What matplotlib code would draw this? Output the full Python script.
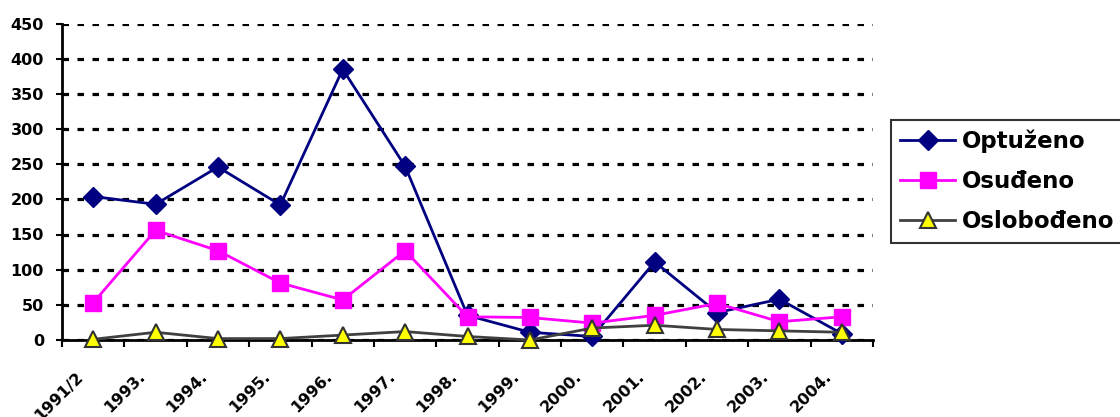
import matplotlib
matplotlib.use("Agg")
import matplotlib.pyplot as plt
import matplotlib.transforms as mtransforms

categories = ["1991/2", "1993.", "1994.", "1995.", "1996.", "1997.", "1998.",
              "1999.", "2000.", "2001.", "2002.", "2003.", "2004."]
optuzeno = [204, 193, 246, 192, 385, 247, 35, 11, 5, 111, 39, 58, 9]
osudjeno = [53, 156, 127, 81, 57, 127, 33, 32, 24, 35, 52, 26, 33]
oslobodjeno = [1, 11, 2, 2, 7, 12, 5, 0, 17, 21, 15, 13, 11]
yticks = [0, 50, 100, 150, 200, 250, 300, 350, 400, 450]

plt.rcParams['font.family'] = ['DejaVu Sans']
plt.rcParams['font.weight'] = 'bold'
plt.rcParams['lines.scale_dashes'] = False

fig = plt.figure(figsize=(11.2, 4.17), dpi=100)
ax = fig.add_axes([62/1120, 77/417, (873-62)/1120, (340-23.5)/417])

x = list(range(len(categories)))
ax.plot(x, optuzeno, color='#000080', lw=2, marker='D', ms=10,
        mfc='#000080', mec='#000080', label='Optuženo', zorder=3, clip_on=False)
ax.plot(x, osudjeno, color='#FF00FF', lw=2, marker='s', ms=11,
        mfc='#FF00FF', mec='#FF00FF', label='Osuđeno', zorder=4, clip_on=False)
ax.plot(x, oslobodjeno, color='#404040', lw=2, marker='^', ms=11,
        mfc='#FFFF00', mec='#333333', mew=1.5, label='Oslobođeno', zorder=5, clip_on=False)

ax.set_xlim(-0.5, len(categories) - 0.5)
ax.set_ylim(0, 450)
ax.set_yticks(yticks)
ax.set_yticklabels([str(v) for v in yticks], fontsize=11.5, fontweight='bold')

# category labels (rotated, shifted as in the reference)
ax.set_xticks(x)
ax.set_xticklabels([])
ax.set_xticks([i - 0.5 for i in range(len(categories) + 1)], minor=True)
ax.tick_params(axis='x', which='major', length=0)
ax.tick_params(axis='x', which='minor', length=5, width=1.5, direction='out')
ax.tick_params(axis='y', length=4.5, width=1.5, direction='out', pad=8.5)
lbl_tr = ax.get_xaxis_transform() + mtransforms.ScaledTranslation(
    -13/72, -21/72, fig.dpi_scale_trans)
for xi, cat in zip(x, categories):
    ax.text(xi, 0, cat, transform=lbl_tr, rotation=45, ha='right', va='top',
            rotation_mode='anchor', fontsize=11.5, fontweight='bold', clip_on=False)

for s in ['top', 'right']:
    ax.spines[s].set_visible(False)
for s in ['left', 'bottom']:
    ax.spines[s].set_linewidth(2)

ax.yaxis.grid(True, color='black', linestyle=(0, (4.7, 6.1)), linewidth=2.3)
ax.set_axisbelow(True)

leg = ax.legend(loc='center left', bbox_to_anchor=(891/1120, 1 - 181.5/417),
                bbox_transform=fig.transFigure, frameon=True, fancybox=False,
                prop={'size': 16.5, 'weight': 'bold'}, handlelength=2.4,
                borderpad=0.4, labelspacing=0.75, handletextpad=0.3,
                borderaxespad=0)
for t in leg.get_texts():
    t.set_fontweight('bold')
leg.get_frame().set_edgecolor('black')
leg.get_frame().set_linewidth(1.5)

fig.savefig("out.png", dpi=100)
